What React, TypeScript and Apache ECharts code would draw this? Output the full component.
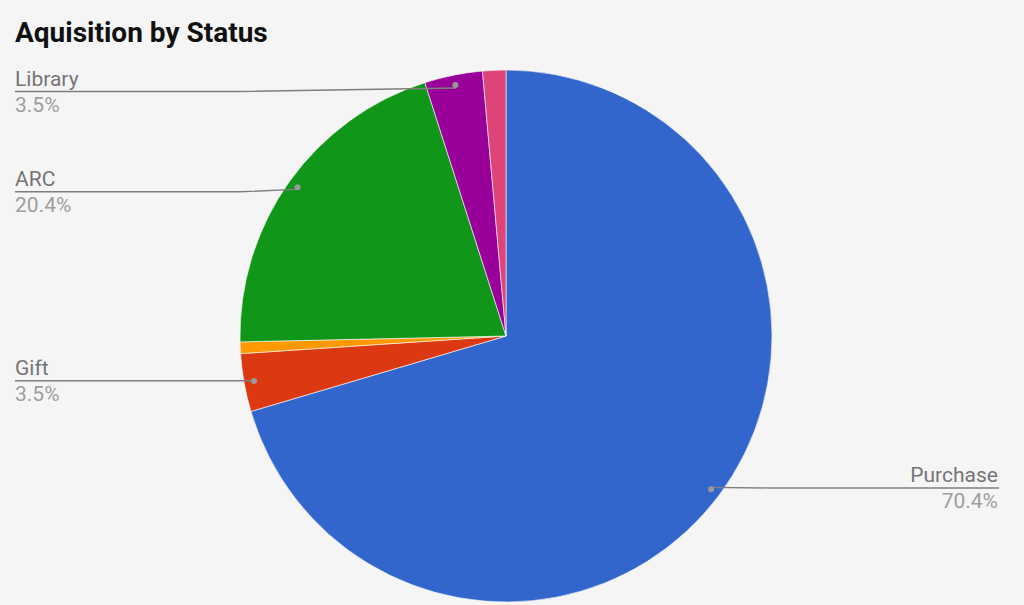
import React, { useEffect, useRef } from "react";
import * as echarts from "echarts";

const title = "Aquisition by Status";
const categories = ["Purchase", "Gift", "Won", "ARC", "Library", "Other"];
const counts = [100, 5, 1, 29, 5, 2];
const colors = ["#3366cc", "#dc3912", "#ff9900", "#109618", "#990099", "#dd4477"];
const showLabel = [true, true, false, true, true, false];

const VIEW_TOP = 67;
const CX = 506;
const CY = 336;
const R = 266;
const DOT_R = 253;

export default function App() {
  const ref = useRef<HTMLDivElement>(null);

  useEffect(() => {
    if (!ref.current) return;
    const chart = echarts.init(ref.current, undefined, { renderer: "svg" });

    const baseData = categories.map((name, i) => ({ name, value: counts[i] }));

    const labelData = categories.map((name, i) => {
      const isRight = i === 0;
      return {
        name,
        value: counts[i],
        label: { show: showLabel[i], edgeDistance: isRight ? 26 : 15 },
        labelLine: { show: showLabel[i] },
      };
    });

    const dotData = categories.map((name, i) => ({
      name,
      value: counts[i],
      label: { show: showLabel[i] },
    }));

    const common = {
      type: "pie",
      left: 0,
      right: 0,
      top: VIEW_TOP,
      bottom: 0,
      center: [CX, CY - VIEW_TOP],
      startAngle: 90,
      clockwise: true,
      silent: true,
      emphasis: { disabled: true },
    };

    chart.setOption({
      animation: false,
      backgroundColor: "#f5f5f5",
      title: {
        text: title,
        left: 15,
        top: 18,
        padding: 0,
        textStyle: {
          fontFamily: "Roboto",
          fontWeight: "bold",
          fontSize: 28,
          color: "#111",
        },
      },
      series: [
        {
          ...common,
          z: 1,
          radius: R,
          data: baseData.map((d, i) => ({ ...d, itemStyle: { color: colors[i] } })),
          itemStyle: { borderColor: "#ffffff", borderWidth: 0.6 },
          label: { show: false },
          labelLine: { show: false },
        },
        {
          ...common,
          z: 3,
          radius: DOT_R,
          data: labelData,
          itemStyle: { color: "transparent", borderWidth: 0 },
          label: {
            show: true,
            position: "outside",
            alignTo: "edge",
            formatter: (p: any) => `{n|${p.name}}\n{p|${p.percent.toFixed(1)}%}`,
            rich: {
              n: { fontFamily: "Roboto", fontSize: 21, lineHeight: 26, color: "#757575" },
              p: { fontFamily: "Roboto", fontSize: 21, lineHeight: 26, color: "#9e9e9e" },
            },
          },
          labelLine: {
            show: true,
            showAbove: true,
            length: 1,
            length2: 10,
            lineStyle: { color: "#7f7f7f", width: 1.4 },
          },
          labelLayout: (params: any) => {
            const pts = params.labelLinePoints;
            const rect = params.labelRect;
            if (!pts || pts.length < 2 || !rect) return {};
            const isLeft = pts[0][0] < CX;
            const farX = isLeft ? 15 : 999;
            const bendX = isLeft ? CX - R : CX + R;
            const y = rect.y + rect.height / 2;
            return {
              labelLinePoints: [pts[0], [bendX, y], [farX, y]],
            };
          },
        },
        {
          ...common,
          z: 4,
          radius: [DOT_R - 3, DOT_R + 3],
          data: dotData,
          itemStyle: { color: "transparent", borderWidth: 0 },
          labelLine: { show: false },
          label: {
            show: true,
            position: "inside",
            formatter: () => " ",
            fontSize: 1,
            width: 6,
            height: 6,
            padding: 0,
            backgroundColor: "#999999",
            borderRadius: 3,
            align: "center",
            verticalAlign: "middle",
          },
        },
      ],
    });

    return () => chart.dispose();
  }, []);

  return (
    <div
      ref={ref}
      style={{ position: "fixed", left: 0, top: 0, width: 1024, height: 605 }}
    />
  );
}
